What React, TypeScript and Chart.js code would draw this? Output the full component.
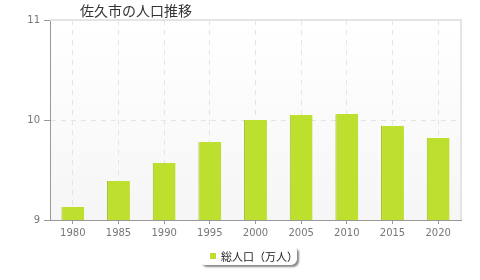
import React, { useEffect, useRef } from "react";
import { Chart, registerables } from "chart.js";
Chart.register(...registerables);

const categories = ["1980", "1985", "1990", "1995", "2000", "2005", "2010", "2015", "2020"];
const population = [9.13, 9.39, 9.57, 9.78, 10.0, 10.05, 10.06, 9.94, 9.82];
const yTicks = [9, 10, 11];
const seriesName = "総人口（万人）";
const titleText = "佐久市の人口推移";

const bgPlugin = {
  id: "areaBg",
  beforeDraw(chart: any) {
    const { ctx, chartArea } = chart;
    const { left, top, right, bottom } = chartArea;
    const g = ctx.createLinearGradient(0, top, 0, bottom);
    g.addColorStop(0, "#ffffff");
    g.addColorStop(1, "#f6f6f6");
    ctx.save();
    ctx.fillStyle = g;
    ctx.fillRect(left, top, right - left, bottom - top);
    ctx.restore();
  },
  afterDatasetsDraw(chart: any) {
    const { ctx, chartArea } = chart;
    const { left, top, right, bottom } = chartArea;
    ctx.save();
    ctx.strokeStyle = "#e4e4e4";
    ctx.lineWidth = 2;
    ctx.beginPath();
    ctx.moveTo(left, top);
    ctx.lineTo(right, top);
    ctx.lineTo(right, bottom);
    ctx.stroke();
    ctx.restore();
  },
};

export default function App() {
  const ref = useRef<HTMLCanvasElement>(null);
  useEffect(() => {
    document.body.style.margin = "0";
    const chart = new Chart(ref.current!, {
      type: "bar",
      data: {
        labels: categories,
        datasets: [
          {
            label: seriesName,
            data: population,
            backgroundColor: "#bde02e",
            borderColor: "#a3b82c",
            borderWidth: { left: 1, right: 0, top: 0, bottom: 0 },
            barPercentage: 0.5,
            categoryPercentage: 1,
          },
        ],
      },
      options: {
        animation: false,
        responsive: false,
        layout: { padding: { top: 20, right: 19, left: 0, bottom: 0 } },
        plugins: { legend: { display: false }, title: { display: false }, tooltip: { enabled: false } },
        scales: {
          x: {
            offset: true,
            grid: {
              offset: false,
              color: "#e4e4e4",
              tickColor: "#999",
              tickLength: 4,
              tickBorderDash: [],
            } as any,
            border: { color: "#999", width: 1, dash: [5, 5] },
            ticks: { color: "#777", font: { family: "DejaVu Sans", size: 10 }, padding: 3 },
            afterFit(scale: any) { scale.height = 60; },
          },
          y: {
            min: 9,
            max: 11,
            afterBuildTicks(scale: any) { scale.ticks = yTicks.map((v) => ({ value: v })); },
            grid: {
              color: (c: any) => (c.tick && c.tick.value === 10 ? "#e4e4e4" : "rgba(0,0,0,0)"),
              tickColor: "#999",
              tickLength: 6,
              tickBorderDash: [],
            } as any,
            border: { color: "#999", width: 1, dash: [5, 5] },
            ticks: { color: "#777", font: { family: "DejaVu Sans", size: 10 }, padding: 4 },
            afterFit(scale: any) { scale.width = 50; },
          },
        },
      },
      plugins: [bgPlugin],
    });
    return () => chart.destroy();
  }, []);
  return (
    <div style={{ position: "relative", width: 480, height: 280, background: "#fff" }}>
      <canvas ref={ref} width={480} height={280} style={{ display: "block" }} />
      <div
        style={{
          position: "absolute",
          left: 80,
          top: 1,
          fontFamily: "'Noto Sans CJK JP'",
          fontSize: 14,
          color: "#333",
          lineHeight: "18px",
        }}
      >
        {titleText}
      </div>
      <div
        style={{
          position: "absolute",
          left: 201,
          top: 247,
          width: 96,
          height: 18,
          borderRadius: "0 4px 6px 4px",
          boxShadow: "2px 2px 2px #888",
          background: "#fff",
          fontFamily: "'Noto Sans CJK JP'",
          fontSize: 11,
          color: "#222",
          display: "flex",
          alignItems: "center",
        }}
      >
        <span style={{ display: "inline-block", width: 6, height: 6, background: "#bde02e", marginLeft: 9, marginRight: 5 }} />
        {seriesName}
      </div>
    </div>
  );
}
